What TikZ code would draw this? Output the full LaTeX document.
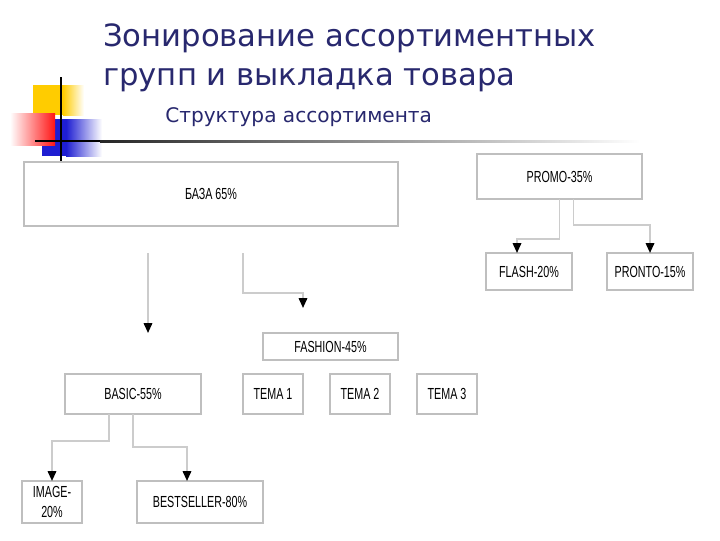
\documentclass[tikz,border=0pt]{standalone}
\usepackage{fontspec}
\setmainfont{DejaVu Sans}
\newfontfamily\boxfont[FakeStretch=0.67]{Liberation Sans}
\usetikzlibrary{calc,arrows.meta}
\definecolor{titleblue}{RGB}{40,40,110}
\definecolor{logoyellow}{RGB}{255,204,0}
\definecolor{logored}{RGB}{255,20,20}
\definecolor{logoblue}{RGB}{30,30,210}

\begin{document}
\begin{tikzpicture}[x=0.025cm,y=-0.025cm,
                    box/.style={draw=black!25,line width=0.8pt,fill=white,inner sep=0pt,outer sep=0pt,
                                font=\boxfont\fontsize{11.4}{14}\selectfont,align=center},
                    link/.style={draw=black!20,line width=1.3pt,
                                 -{Triangle[black,width=6pt,length=7pt]}},
                    title text/.style={anchor=base west,inner sep=0pt,text=titleblue}]
    \useasboundingbox (0,0) rectangle (720,540);

    % logo
    \fill[logoyellow] (33,85) rectangle (63,115);
    \shade[left color=logoyellow,right color=white] (63,85) rectangle (84,115);
    \fill[logoblue] (42,119) rectangle (66,156);
    \shade[left color=logoblue,right color=white] (66,119) rectangle (102,156);
    \shade[left color=white,right color=logored] (10,113) rectangle (55,145);
    \fill[black] (35,140) rectangle (100,142);
    \shade[left color=black!85,middle color=black!30,right color=white] (100,140) rectangle (640,142);
    \draw[line width=1.6pt] (61,77) -- (61,161);

    % title
    \node[title text,font=\fontsize{21.8}{26}\selectfont] (title a) at (103,46) {Зонирование ассортиментных};
    \node[title text,font=\fontsize{21.8}{26}\selectfont] (title b) at (103,85) {групп и выкладка товара};
    \node[title text,font=\fontsize{14.3}{17}\selectfont] (subtitle) at (165,122) {Структура ассортимента};

    % boxes
    \node[box,minimum width=9.35cm,minimum height=1.6cm] (base) at (211,194) {БАЗА 65\%};
    \node[box,minimum width=4.125cm,minimum height=1.125cm] (promo) at (559.5,176.5) {PROMO-35\%};
    \node[box,minimum width=2.15cm,minimum height=0.925cm] (flash) at (529,271.5) {FLASH-20\%};
    \node[box,minimum width=2.15cm,minimum height=0.925cm] (pronto) at (650,271.5) {PRONTO-15\%};
    \node[box,minimum width=3.375cm,minimum height=0.675cm] (fashion) at (330.5,346.5) {FASHION-45\%};
    \node[box,minimum width=3.4cm,minimum height=1cm] (basic) at (133,394) {BASIC-55\%};
    \node[box,minimum width=1.5cm,minimum height=1cm] (tema 1) at (273,394) {TEMA 1};
    \node[box,minimum width=1.5cm,minimum height=1cm] (tema 2) at (360,394) {TEMA 2};
    \node[box,minimum width=1.5cm,minimum height=1cm] (tema 3) at (447,394) {TEMA 3};
    \node[box,minimum width=1.5cm,minimum height=1.05cm] (image) at (52,502) {IMAGE-\\20\%};
    \node[box,minimum width=3.15cm,minimum height=1.05cm] (bestseller) at (200,502) {BESTSELLER-80\%};

    % connectors
    \coordinate (base left) at (148,253);
    \coordinate (base left end) at (148,333);
    \coordinate (base right) at (243,253);
    \coordinate (base right end) at (303,308);
    \draw[link] (base left) -- (base left end);
    \draw[link] (base right) |- ($(base right end)+(0,-15)$) -- (base right end);
    \draw[link] (promo.south) |- ($(flash.north)+(-12,-14)$) -- ($(flash.north)+(-12,0)$);
    \draw[link] ($(promo.south)+(14,0)$) |- ($(pronto.north)+(0,-28)$) -- (pronto.north);
    \draw[link] ($(basic.south)+(-24,0)$) |- ($(image.north)+(0,-40)$) -- (image.north);
    \draw[link] (basic.south) |- ($(bestseller.north)+(-13,-34)$) -- ($(bestseller.north)+(-13,0)$);
\end{tikzpicture}
\end{document}
